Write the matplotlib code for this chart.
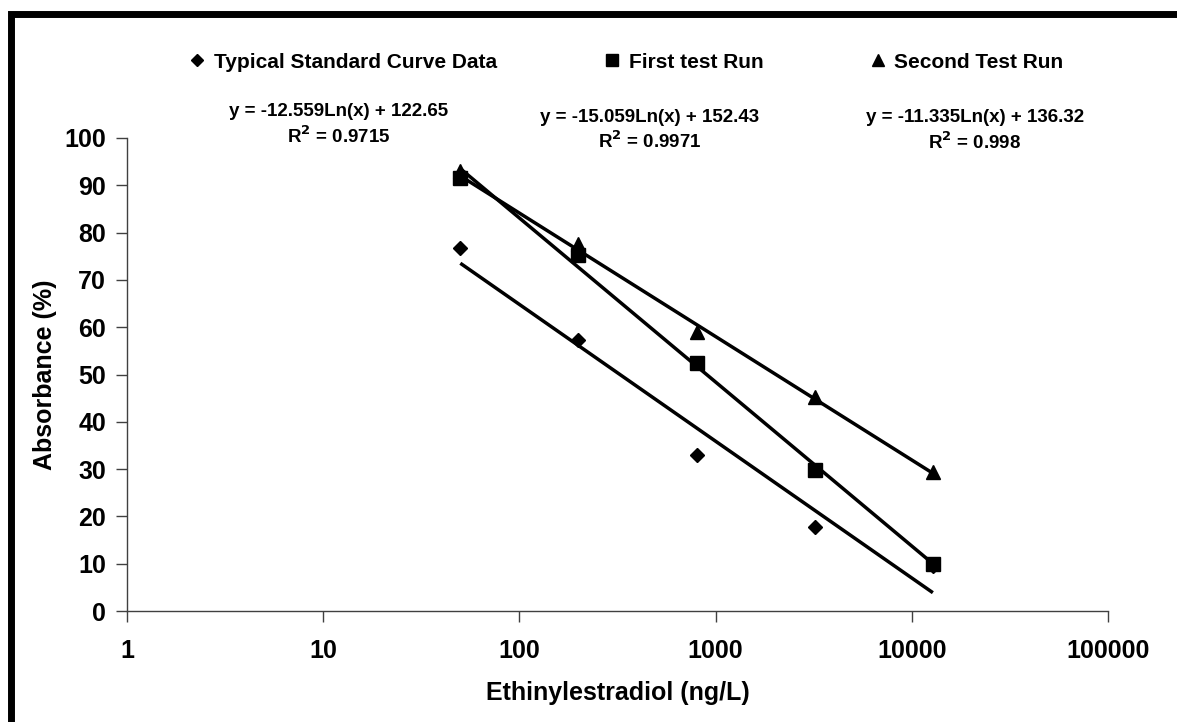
import numpy as np
import matplotlib.pyplot as plt
from matplotlib.lines import Line2D
from matplotlib.patches import Rectangle

plt.rcParams['font.family'] = ['Liberation Sans', 'DejaVu Sans']
plt.rcParams['font.weight'] = 'bold'

# concentrations (ng/L), 4x dilution series
conc = [50, 200, 800, 3200, 12800]

typical = [76.7, 57.2, 32.9, 17.8, 9.5]
first_run = [91.5, 75.3, 52.5, 29.8, 9.9]
second_run = [93.0, 77.6, 59.0, 45.2, 29.3]

names = ['Typical Standard Curve Data', 'First test Run', 'Second Test Run']
markers = ['D', 's', '^']
marker_sizes = [7, 9.5, 9.5]

# log trendlines shown on the chart: y = a*Ln(x) + b
slopes = [-12.559, -15.059, -11.335]
intercepts = [122.65, 152.43, 136.32]
r2 = ['0.9715', '0.9971', '0.998']

fig = plt.figure(figsize=(11.77, 7.22), dpi=100)
ax = fig.add_axes([0.1079, 0.1537, 0.8335, 0.6552])

series = [typical, first_run, second_run]
for vals, m, ms in zip(series, markers, marker_sizes):
    ax.plot(conc, vals, linestyle='none', marker=m, markersize=ms, color='black')

xfit = np.geomspace(conc[0], conc[-1], 50)
for a, b in zip(slopes, intercepts):
    ax.plot(xfit, a * np.log(xfit) + b, color='black', lw=2.5, solid_capstyle='butt')

ax.set_xscale('log')
ax.set_xlim(1, 100000)
ax.set_ylim(0, 100)
ax.set_yticks(range(0, 101, 10))
ax.set_xticks([1, 10, 100, 1000, 10000, 100000])
ax.set_xticklabels(['1', '10', '100', '1000', '10000', '100000'])
ax.minorticks_off()

for s in ['top', 'right']:
    ax.spines[s].set_visible(False)
for s in ['left', 'bottom']:
    ax.spines[s].set_color('#404040')
    ax.spines[s].set_linewidth(1.0)
ax.tick_params(axis='both', colors='#404040', length=8, width=1.0, labelsize=18, labelcolor='black')
ax.tick_params(axis='x', pad=12)
ax.tick_params(axis='y', pad=7)
for lab in ax.get_xticklabels() + ax.get_yticklabels():
    lab.set_fontweight('bold')

ax.set_xlabel('Ethinylestradiol (ng/L)', fontsize=18, fontweight='bold', labelpad=13)
ax.set_ylabel('Absorbance (%)', fontsize=18, fontweight='bold', labelpad=5)

handles = [Line2D([], [], linestyle='none', marker=m, color='black', markersize=ms * 0.9)
           for m, ms in zip(markers, marker_sizes)]
fig.legend(handles, names, ncol=3, loc='center left', bbox_to_anchor=(0.143, 0.914),
           frameon=False, handletextpad=0.3, columnspacing=5.0,
           handlelength=1.0, prop={'weight': 'bold', 'size': 15})

# trendline equation labels
eq_pos = [(339, 112), (650, 117), (975, 118)]
for (px, py), a, b, r in zip(eq_pos, slopes, intercepts, r2):
    txt = 'y = %.3fLn(x) + %.2f' % (a, b)
    fig.text(px / 1177, 1 - py / 722, txt, ha='center', va='center', fontsize=13.5, fontweight='bold')
    fig.text(px / 1177, 1 - (py + 24) / 722, r'R$^\mathbf{2}$ = ' + r, ha='center', va='center',
             fontsize=13.5, fontweight='bold')

# thick outer frame (left and top edges visible)
fig.patches.append(Rectangle((11 / 1177, -0.1), 1.2, 1 - 14 / 722 + 0.1, transform=fig.transFigure,
                             fill=False, edgecolor='black', linewidth=5, clip_on=False))

fig.savefig('out.png', dpi=100)
